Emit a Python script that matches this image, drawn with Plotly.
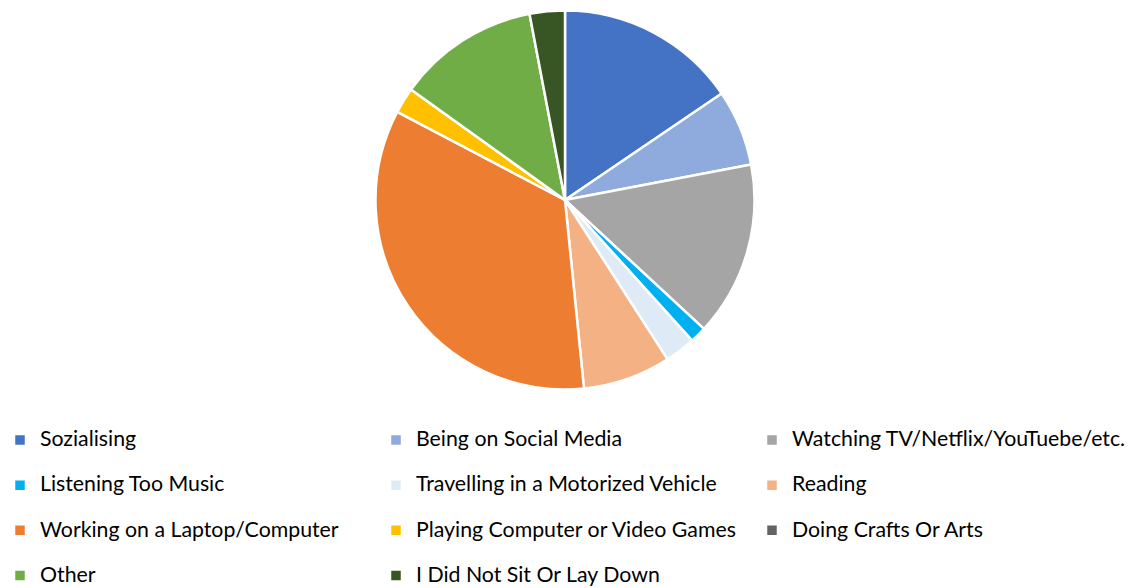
import plotly.graph_objects as go

categories = [
    "Sozialising",
    "Being on Social Media",
    "Watching TV/Netflix/YouTuebe/etc.",
    "Listening Too Music",
    "Travelling in a Motorized Vehicle",
    "Reading",
    "Working on a Laptop/Computer",
    "Playing Computer or Video Games",
    "Doing Crafts Or Arts",
    "Other",
    "I Did Not Sit Or Lay Down",
]
shares = [15.5, 6.5, 14.9, 1.4, 2.6, 7.5, 34.3, 2.2, 0.0, 12.1, 3.0]
colors = [
    "#4472C4", "#8FAADC", "#A5A5A5", "#00B0F0", "#DEEBF7", "#F4B183",
    "#ED7D31", "#FFC000", "#636363", "#70AD47", "#375623",
]

W, H = 1136, 588
cx, cy, r = 565, 200, 189.5

# legend labels: visible first line at 21.3px, blank second line for row spacing
legend_labels = [f'<span style="font-size:21.3px">{c}</span><br>\u00a0' for c in categories]

fig = go.Figure(go.Pie(
    labels=legend_labels,
    values=shares,
    sort=False,
    direction="clockwise",
    rotation=0,
    textinfo="none",
    hoverinfo="label+percent",
    marker=dict(colors=colors, line=dict(color="white", width=2.5)),
    domain=dict(x=[(cx - r) / W, (cx + r) / W], y=[(H - cy - r) / H, (H - cy + r) / H]),
))

fig.update_layout(
    width=W, height=H,
    margin=dict(l=0, r=0, t=0, b=0, autoexpand=False),
    paper_bgcolor="white",
    plot_bgcolor="white",
    font=dict(family="Lato", color="#000000"),
    legend=dict(
        orientation="h",
        xref="container", yref="container",
        x=0, xanchor="left",
        y=1 - 423 / H, yanchor="top",
        entrywidth=331, entrywidthmode="pixels",
        font=dict(size=16.2, family="Lato", color="#000000"),
        valign="top",
        traceorder="normal",
    ),
    showlegend=True,
)

fig.write_html("out.html")
